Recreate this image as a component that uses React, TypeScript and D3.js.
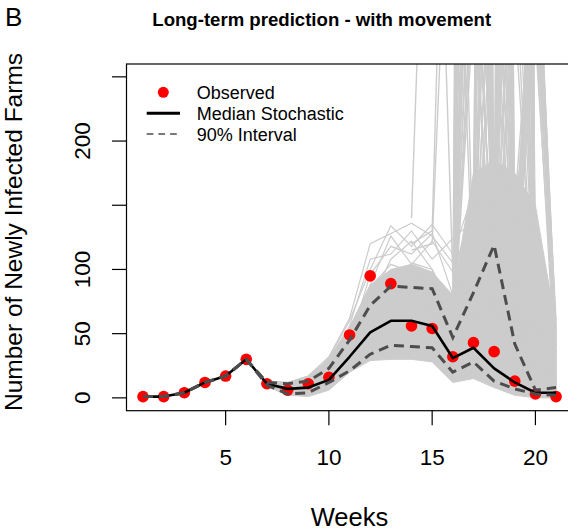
import React from 'react';
import * as d3 from 'd3';

// ---------- data ----------
const weeks = [1, 2, 3, 4, 5, 6, 7, 8, 9, 10, 11, 12, 13, 14, 15, 16, 17, 18, 19, 20, 21];
const observed = [1, 1, 4, 12, 17, 30, 11, 6, 11, 16, 49, 95, 89, 56, 54, 32, 43, 36, 13, 3, 1];
const medianStochastic = [1, 1, 4, 12, 17, 30, 11, 7, 8, 14, 32, 51, 60, 60, 56, 31, 39, 23, 12, 4, 4];
const upper90 = [1, 1, 4, 12, 17, 30, 12, 11, 13, 23, 45, 72, 87, 86, 85, 47, 82, 119, 42, 6, 8];
const lower90 = [1, 1, 4, 12, 17, 30, 10, 3, 4, 12, 21, 34, 41, 40, 39, 20, 28, 13, 7, 3, 2];

// simulated trajectories (weeks 7..21)
const simWeeks = [7, 8, 9, 10, 11, 12, 13, 14, 15, 16, 17, 18, 19, 20, 21];
const simLow = [9, 2, 1, 6, 20, 29, 30, 30, 28, 12, 15, 8, 2, 0, 0];
const simHigh = [13, 12, 17, 30, 55, 88, 100, 104, 98, 80, 175, 185, 175, 150, 55];
const coreRuns = [
  [11, 5, 4, 11, 25, 38, 45, 44, 40, 18, 25, 12, 6, 2, 1],
  [12, 8, 9, 17, 34, 54, 62, 60, 56, 30, 38, 24, 11, 4, 3],
  [10, 6, 8, 19, 40, 66, 78, 76, 70, 40, 52, 34, 15, 5, 4],
  [13, 10, 14, 26, 47, 80, 94, 90, 84, 50, 68, 45, 21, 8, 6],
  [9, 3, 3, 9, 21, 32, 36, 36, 33, 14, 20, 9, 4, 1, 0],
  [12, 11, 16, 29, 54, 86, 104, 98, 90, 58, 84, 58, 30, 12, 8],
  [10, 7, 7, 15, 30, 58, 72, 80, 86, 44, 48, 28, 13, 5, 3],
  [11, 9, 12, 23, 44, 74, 108, 122, 100, 68, 92, 66, 38, 14, 10],
  [12, 10, 13, 24, 43, 96, 118, 112, 128, 80, 108, 82, 48, 20, 14],
  [10, 5, 6, 14, 28, 50, 56, 68, 60, 34, 44, 27, 12, 4, 2],
  [13, 11, 15, 30, 56, 108, 112, 130, 108, 124, 138, 98, 58, 24, 16],
  [12, 9, 14, 27, 50, 88, 126, 104, 122, 98, 146, 118, 66, 28, 18],
  [11, 8, 10, 20, 38, 62, 70, 64, 66, 36, 30, 16, 8, 3, 2],
  [9, 4, 5, 12, 27, 44, 52, 50, 46, 24, 32, 18, 8, 3, 1],
  [12, 10, 15, 31, 60, 100, 134, 118, 135, 112, 160, 140, 90, 40, 30],
  [13, 12, 17, 32, 62, 120, 128, 136, 126, 105, 130, 150, 110, 50, 40],
];

// exploding trajectories (weeks 14..21)
const spikeWeeks = [14, 15, 16, 17, 18, 19, 20, 21];
const spikeRuns = [
  // early explosions
  [140, 600, 95, 120, 80, 40, 18, 10],
  [115, 120, 500, 80, 60, 35, 15, 8],
  [120, 130, 700, 90, 70, 40, 15, 8],
  // week 17 explosions
  [90, 85, 45, 300, 80, 40, 15, 8],
  [95, 88, 50, 320, 70, 35, 12, 6],
  [80, 75, 40, 350, 110, 60, 20, 10],
  [100, 92, 60, 380, 90, 45, 18, 9],
  [70, 66, 35, 420, 60, 30, 10, 5],
  [85, 80, 55, 460, 120, 70, 25, 12],
  [92, 86, 48, 500, 100, 50, 20, 10],
  [75, 70, 38, 550, 110, 75, 30, 15],
  [88, 84, 52, 600, 130, 80, 35, 20],
  [60, 58, 30, 680, 75, 40, 14, 6],
  [105, 100, 65, 750, 95, 90, 30, 14],
  [82, 78, 42, 850, 50, 60, 25, 12],
  [90, 86, 46, 950, 85, 55, 22, 10],
  [78, 72, 40, 1100, 70, 45, 18, 8],
  [96, 90, 58, 1250, 105, 70, 28, 15],
  [72, 68, 36, 1400, 60, 38, 14, 6],
  [86, 82, 50, 1600, 90, 60, 24, 12],
  [100, 94, 62, 1900, 115, 75, 30, 16],
  [68, 64, 34, 2300, 55, 35, 12, 5],
  [94, 88, 54, 2800, 100, 65, 26, 14],
  // week 18 explosions
  [88, 82, 46, 70, 300, 60, 20, 10],
  [76, 72, 40, 60, 340, 55, 18, 9],
  [95, 90, 56, 90, 380, 80, 30, 15],
  [70, 66, 36, 55, 430, 50, 40, 20],
  [100, 95, 62, 110, 480, 70, 25, 12],
  [84, 80, 44, 75, 540, 65, 22, 11],
  [90, 86, 50, 85, 620, 90, 35, 16],
  [66, 62, 34, 50, 700, 45, 18, 8],
  [80, 76, 42, 65, 800, 85, 30, 14],
  [98, 94, 60, 120, 920, 100, 50, 25],
  [86, 82, 46, 95, 1050, 60, 24, 12],
  [74, 70, 38, 80, 1200, 55, 20, 9],
  [94, 90, 54, 130, 1400, 95, 40, 20],
  [68, 64, 35, 60, 1650, 50, 18, 8],
  [102, 96, 64, 140, 1900, 110, 45, 22],
  [82, 78, 43, 90, 2200, 70, 28, 13],
  [90, 86, 50, 100, 2600, 80, 32, 16],
  [78, 74, 41, 70, 3000, 60, 22, 10],
  // week 19 explosions
  [86, 82, 46, 70, 80, 300, 40, 20],
  [74, 70, 38, 58, 65, 340, 35, 15],
  [94, 90, 54, 88, 100, 380, 60, 25],
  [68, 64, 35, 52, 60, 430, 70, 30],
  [102, 96, 64, 112, 120, 480, 45, 22],
  [82, 78, 43, 68, 75, 540, 50, 18],
  [90, 86, 50, 82, 90, 620, 55, 28],
  [78, 74, 41, 62, 70, 700, 30, 12],
  [88, 84, 47, 72, 85, 800, 65, 30],
  [72, 68, 37, 56, 62, 920, 40, 15],
  [96, 90, 55, 90, 105, 1050, 80, 40],
  [66, 62, 33, 50, 55, 1200, 35, 14],
  [100, 94, 62, 108, 115, 1400, 90, 45],
  [80, 76, 42, 64, 72, 1650, 50, 20],
  [92, 88, 52, 80, 95, 1900, 70, 35],
  [74, 70, 39, 60, 68, 2200, 45, 16],
  [86, 82, 47, 75, 88, 2600, 60, 28],
  [70, 66, 36, 54, 64, 3000, 40, 12],
  // week 20 explosions
  [88, 84, 47, 72, 85, 90, 280, 30],
  [72, 68, 37, 56, 62, 70, 300, 45],
  [96, 90, 55, 90, 105, 120, 320, 55],
  [66, 62, 33, 50, 55, 60, 340, 20],
  [100, 94, 62, 108, 115, 150, 360, 60],
  [80, 76, 42, 64, 72, 80, 380, 35],
  [92, 88, 52, 80, 95, 110, 400, 50],
  [74, 70, 39, 60, 68, 75, 420, 25],
  [84, 80, 45, 70, 80, 95, 310, 40],
  [90, 86, 50, 85, 100, 130, 350, 15],
  [70, 66, 36, 54, 60, 65, 390, 50],
  [98, 92, 58, 95, 110, 140, 290, 10],
  // repeated explosions
  [90, 86, 50, 900, 100, 1200, 60, 30],
  [84, 80, 45, 600, 1500, 90, 350, 40],
  [80, 76, 44, 75, 700, 1800, 80, 25],
];

const xTicks = [5, 10, 15, 20];
const yTicks = [0, 50, 100, 150, 200, 250];
const yTickLabels = ['0', '50', '100', '', '200', ''];

const titleText = 'Long-term prediction - with movement';
const panelLetter = 'B';
const xLabel = 'Weeks';
const yLabel = 'Number of Newly Infected Farms';
const legendItems = ['Observed', 'Median Stochastic', '90% Interval'];

// ---------- component ----------
export default function App() {
  const W = 568;
  const H = 532;
  const left = 126.5;
  const right = 572.6;
  const top = 64;
  const bottom = 410.7;

  const x = d3.scaleLinear().domain([0.2, 21.8]).range([left, right]);
  const y = d3.scaleLinear().domain([-10, 260]).range([bottom, top]);

  const line = d3
    .line<[number, number]>()
    .x((d) => x(d[0]))
    .y((d) => y(d[1]));

  const band = d3
    .area<number>()
    .x((_, i) => x(simWeeks[i]))
    .y0((_, i) => y(simLow[i]))
    .y1((d) => y(d));

  const pair = (ws: number[], vs: number[]) => ws.map((w, i) => [w, vs[i]] as [number, number]);

  const font = "'Liberation Sans', Arial, Helvetica, sans-serif";
  const gray = '#cccccc';

  return (
    <svg
      width={W}
      height={H}
      style={{ position: 'absolute', left: 0, top: 0 }}
      fontFamily={font}
    >
      <rect width={W} height={H} fill="white" />
      <defs>
        <clipPath id="plotClip">
          <rect x={left} y={top} width={right - left} height={bottom - top} />
        </clipPath>
      </defs>

      <g clipPath="url(#plotClip)">
        <path d={band(simHigh) || ''} fill={gray} stroke={gray} strokeWidth={1} />
        {coreRuns.map((r, i) => (
          <path key={'c' + i} d={line(pair(simWeeks, r)) || ''} fill="none" stroke={gray} strokeWidth={1.2} />
        ))}
        {spikeRuns.map((r, i) => (
          <path key={'s' + i} d={line(pair(spikeWeeks, r)) || ''} fill="none" stroke={gray} strokeWidth={1.4} />
        ))}

        {observed.map((v, i) => (
          <circle key={'o' + i} cx={x(weeks[i])} cy={y(v)} r={5.8} fill="#ff0000" />
        ))}

        <path d={line(pair(weeks, medianStochastic)) || ''} fill="none" stroke="#000" strokeWidth={2.6} strokeLinejoin="round" />
        <path d={line(pair(weeks, upper90)) || ''} fill="none" stroke="#4d4d4d" strokeWidth={3} strokeDasharray="10,6" />
        <path d={line(pair(weeks, lower90)) || ''} fill="none" stroke="#4d4d4d" strokeWidth={3} strokeDasharray="10,6" />
      </g>

      {/* box */}
      <rect x={left} y={top} width={right - left} height={bottom - top} fill="none" stroke="#000" strokeWidth={1.2} />

      {/* x axis */}
      {xTicks.map((t) => (
        <g key={'xt' + t}>
          <line x1={x(t)} x2={x(t)} y1={bottom} y2={bottom + 14.5} stroke="#000" strokeWidth={1.2} />
          <text x={x(t)} y={465} fontSize={22.5} textAnchor="middle" fill="#000">
            {t}
          </text>
        </g>
      ))}

      {/* y axis */}
      {yTicks.map((t, i) => (
        <g key={'yt' + t}>
          <line x1={left} x2={left - 14.5} y1={y(t)} y2={y(t)} stroke="#000" strokeWidth={1.2} />
          {yTickLabels[i] && (
            <text
              transform={`translate(90,${y(t)}) rotate(-90)`}
              fontSize={22.5}
              textAnchor="middle"
              fill="#000"
            >
              {yTickLabels[i]}
            </text>
          )}
        </g>
      ))}

      {/* legend */}
      <circle cx={163.3} cy={92.3} r={5.5} fill="#ff0000" />
      <line x1={146.7} x2={180} y1={113.3} y2={113.3} stroke="#000" strokeWidth={3} />
      <line x1={146.7} x2={180} y1={134} y2={134} stroke="#4d4d4d" strokeWidth={1.6} strokeDasharray="6.7,5" />
      {legendItems.map((s, i) => (
        <text key={'lg' + i} x={196.7} y={98.7 + i * 21} fontSize={18} fill="#000">
          {s}
        </text>
      ))}

      {/* titles */}
      <text x={321.7} y={25.5} fontSize={18.6} fontWeight="bold" textAnchor="middle" fill="#000">
        {titleText}
      </text>
      <text x={5} y={26} fontSize={26} fill="#000">
        {panelLetter}
      </text>
      <text x={349.5} y={526} fontSize={25.5} textAnchor="middle" fill="#000">
        {xLabel}
      </text>
      <text transform="translate(22,232) rotate(-90)" fontSize={24.5} textAnchor="middle" fill="#000">
        {yLabel}
      </text>
    </svg>
  );
}
